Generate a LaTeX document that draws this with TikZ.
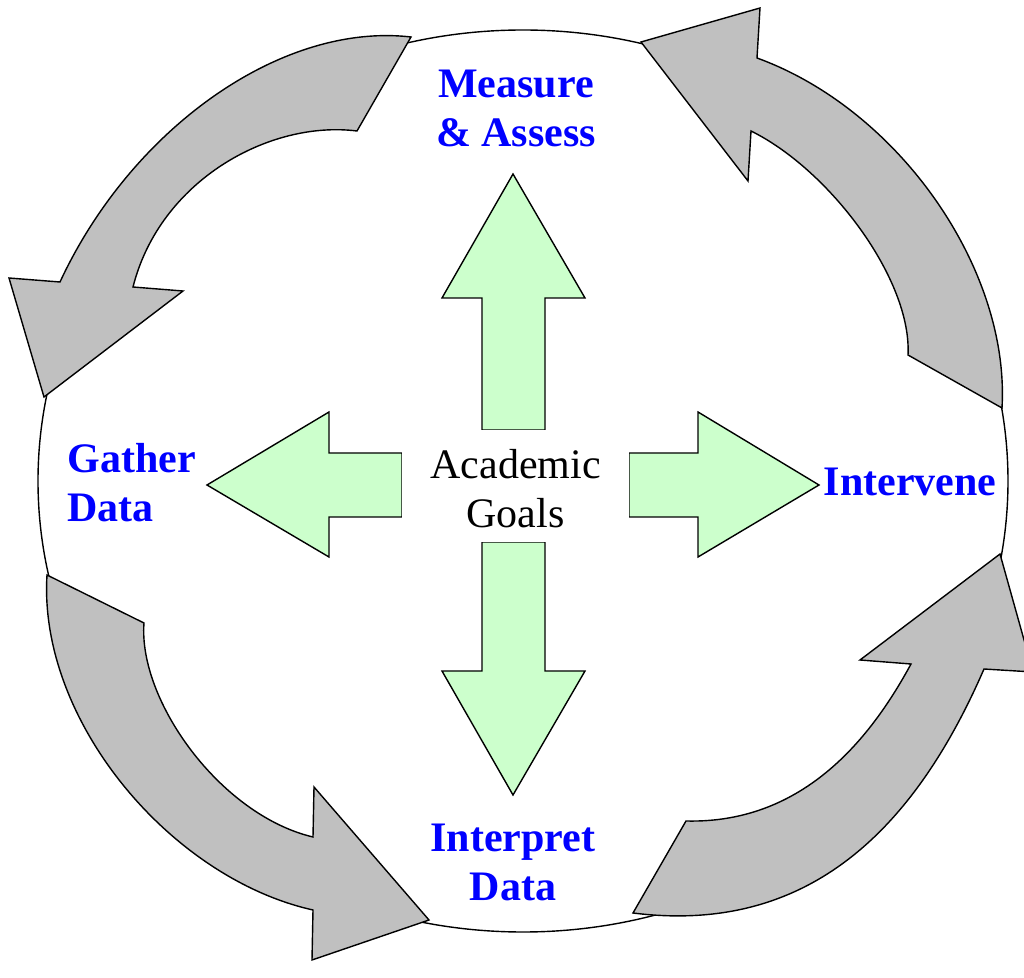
\documentclass[tikz,border=0pt]{standalone}
\usepackage{fontspec}
\setmainfont{Liberation Serif}
\definecolor{cyclegray}{RGB}{192,192,192}
\definecolor{goalgreen}{RGB}{204,255,204}
\definecolor{stepblue}{RGB}{0,0,255}

\begin{document}
\begin{tikzpicture}[x=0.5pt, y=-0.5pt, line join=miter,
    cyclearrow/.style={draw=black, line width=0.7pt, fill=cyclegray},
    goalarrow/.style={draw=black, line width=0.7pt, fill=goalgreen},
    steplabel/.style={text=stepblue, font=\fontsize{21}{24.5}\selectfont\bfseries, inner sep=0pt},
    goallabel/.style={font=\fontsize{21}{24.5}\selectfont, inner sep=0pt, align=center}]
  \useasboundingbox (0,0) rectangle (1024,978);

  % outer ring
  \draw [line width=0.7pt] (523,481) ellipse [x radius=242.5pt, y radius=225.5pt];

  % block arrows out of the centre
  \draw [goalarrow] (482,430) -- (482,298) -- (442,298) -- (513,174) -- (585,298) -- (545,298) -- (545,430) -- cycle;
  \draw [goalarrow] (482,542) -- (482,671) -- (442,671) -- (513,795) -- (585,671) -- (545,671) -- (545,542) -- cycle;
  \draw [goalarrow] (402,453) -- (329,453) -- (329,412) -- (207,485) -- (329,557) -- (329,517) -- (402,517) -- cycle;
  \draw [goalarrow] (629,453) -- (698,453) -- (698,412) -- (819,485) -- (698,557) -- (698,517) -- (629,517) -- cycle;
  \fill [white] (402,430) rectangle (629,542);

  % curved arrows of the cycle
  \draw [cyclearrow] (411,37) .. controls (281,22) and (131,129) .. (60,282) -- (9,278) -- (44,397) -- (183,291) -- (133,287) .. controls (160,180) and (270,120) .. (357,131) -- cycle;
  \draw [cyclearrow] (1002,408) .. controls (1010,270) and (900,110) .. (757,58) -- (760,8) -- (641,42) -- (748,181) -- (751,131) .. controls (830,170) and (912,280) .. (908,355) -- cycle;
  \draw [cyclearrow] (47,575) .. controls (38,720) and (170,878) .. (313,910) -- (312,960) -- (429,920) -- (314,787) -- (313,837) .. controls (220,815) and (138,700) .. (144,623) -- cycle;
  \draw [cyclearrow] (633,913) .. controls (808,935) and (914,830) .. (984,669) -- (1033,672) -- (1000,554) -- (860,660) -- (911,664) .. controls (873,734) and (806,824) .. (686,821) -- cycle;

  \node [goallabel] (goals) at (515.5,488.5) {Academic\\Goals};

  \node [steplabel, align=center] (measure) at (516,108) {Measure\\\& Assess};
  \node [steplabel, align=left, anchor=west] (gather) at (67,483) {Gather\\Data};
  \node [steplabel] (intervene) at (910,482) {Intervene};
  \node [steplabel, align=center] (interpret) at (513,862) {Interpret\\Data};

\end{tikzpicture}
\end{document}
